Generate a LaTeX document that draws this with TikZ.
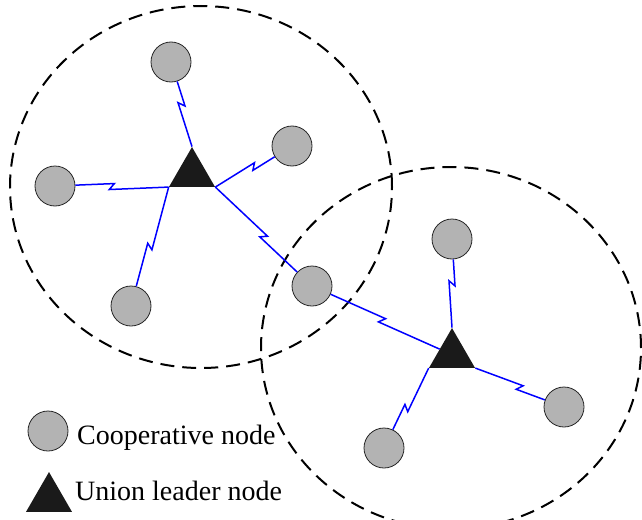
\documentclass[tikz,border=0pt]{standalone}
\usepackage{fontspec}
\setmainfont{Liberation Serif}
\usetikzlibrary{calc,shapes.geometric}
\definecolor{nodegray}{RGB}{179,179,179}
\definecolor{leaderblack}{RGB}{26,26,26}
\tikzset{
  coop/.style={circle, draw=black!85, fill=nodegray, line width=0.8pt, minimum size=40pt, inner sep=0pt},
  leader/.style={regular polygon, regular polygon sides=3, fill=leaderblack, draw=none, minimum size=53.1pt, inner sep=0pt},
  link/.style={blue, line width=1.5pt, line join=miter},
  zone/.style={dash pattern=on 14pt off 8pt, line width=2pt},
  lbl/.style={anchor=base west, inner sep=0pt, font=\fontsize{28}{34}\selectfont}
}
\newcommand\wlink[2]{%
  \draw[link] (#1) -- ($(#1)!0.5!(#2)!2.5pt!(#2)!3pt!90:(#2)$)
    -- ($(#1)!0.5!(#2)!-2.5pt!(#2)!3pt!-90:(#2)$) -- (#2);}
\begin{document}
\begin{tikzpicture}[x=1pt,y=-1pt]
\useasboundingbox (0,0) rectangle (642,519);
% zones
\draw[zone] (201,187) ellipse [x radius=191pt, y radius=181pt];
\draw[zone] (451,348) ellipse [x radius=190pt, y radius=181pt];
% cluster 1
\node[leader] (t1) at (192,173.6) {};
\node[coop] (top1) at (171,62) {};
\node[coop] (ru1) at (292,146) {};
\node[coop] (l1) at (55,186) {};
\node[coop] (bl1) at (131,306) {};
\node[coop] (mid) at (312,286) {};
% cluster 2
\node[leader] (t2) at (452,354.6) {};
\node[coop] (rt2) at (452,239) {};
\node[coop] (rr2) at (564,407) {};
\node[coop] (rb2) at (384,448) {};
% links
\wlink{top1}{t1.corner 1}
\wlink{ru1}{t1.corner 3}
\wlink{l1}{t1.corner 2}
\wlink{bl1}{t1.corner 2}
\wlink{mid}{t1.corner 3}
\wlink{mid}{t2}
\wlink{rt2}{t2.corner 1}
\wlink{rr2}{t2.corner 3}
\wlink{rb2}{t2.corner 2}
% legend
\node[coop] (lc) at (48,431) {};
\node[lbl] (lct) at (77,444) {Cooperative node};
\node[leader] (lt) at (49,498.6) {};
\node[lbl] (ltt) at (75,500) {Union leader node};
\end{tikzpicture}
\end{document}
